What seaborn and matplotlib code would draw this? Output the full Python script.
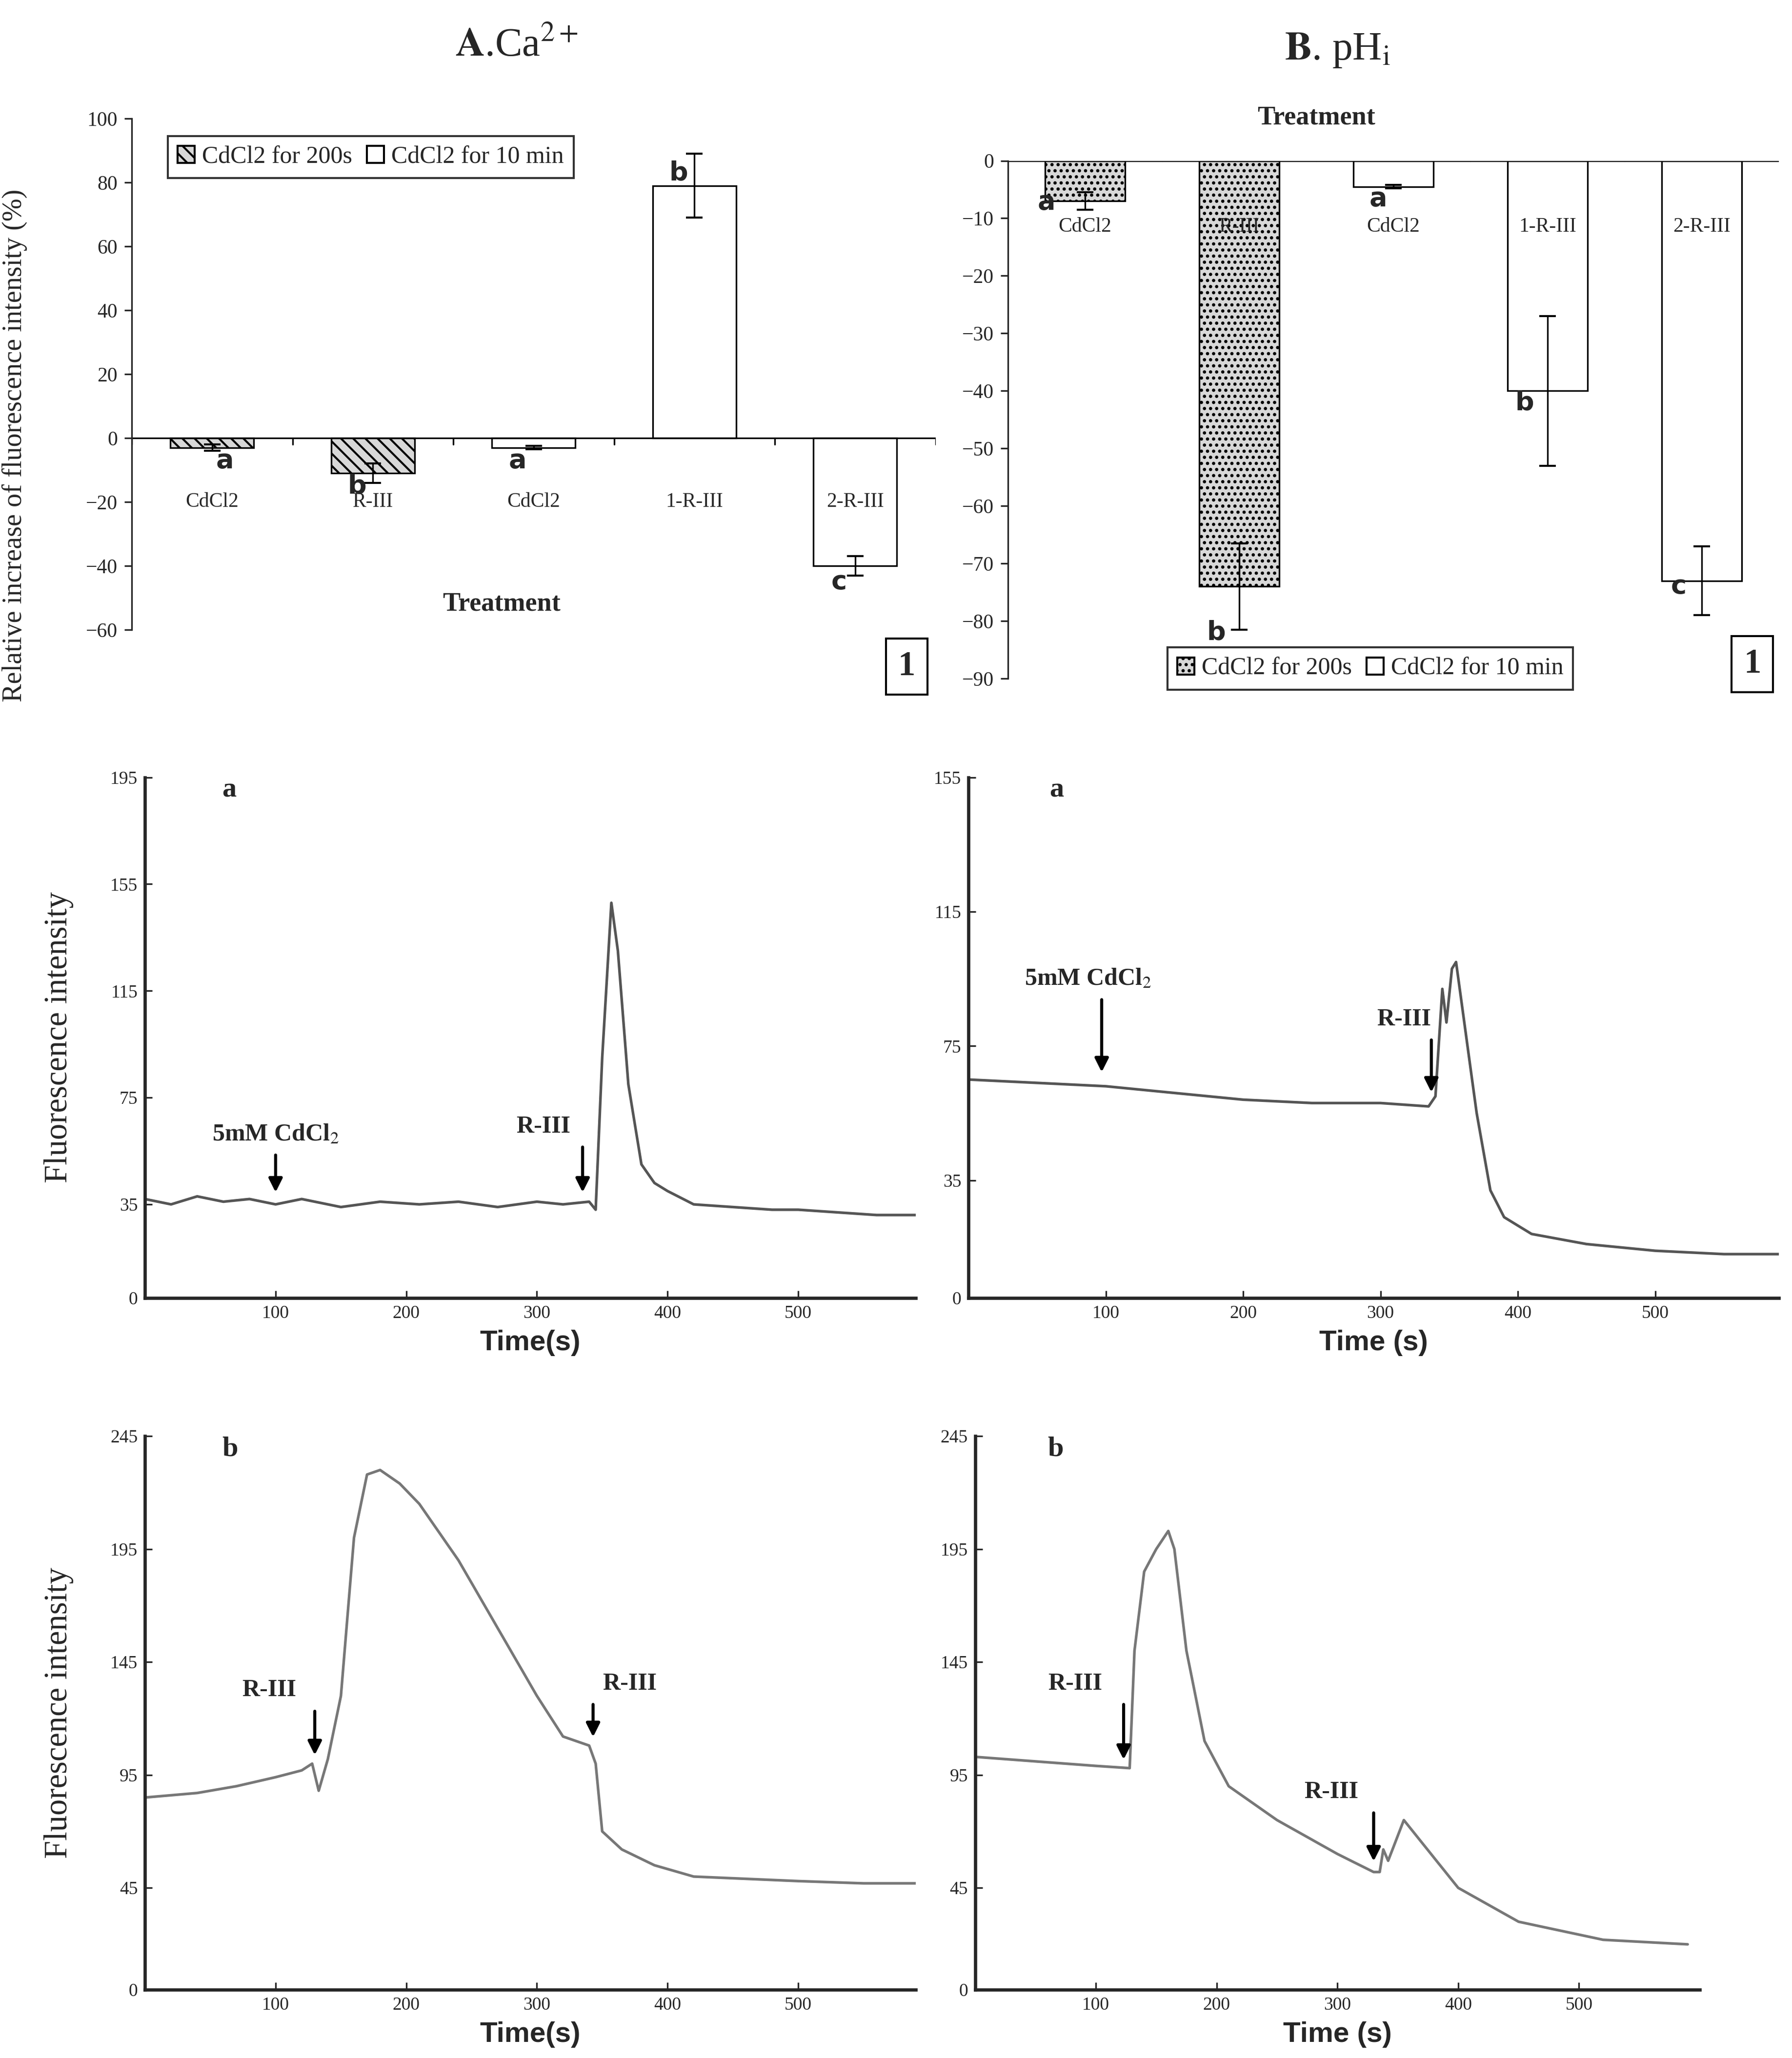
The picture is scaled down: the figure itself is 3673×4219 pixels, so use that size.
import matplotlib
matplotlib.use("Agg")
import matplotlib.pyplot as plt
import numpy as np
import pandas as pd
import seaborn as sns
from matplotlib.patches import Patch

sns.set_style("ticks")
plt.rcParams["font.family"] = ["Liberation Serif", "DejaVu Serif"]
plt.rcParams["mathtext.fontset"] = "stix"

# ---- bar data ----
treat_labels = ["CdCl2", "R-III", "CdCl2", "1-R-III", "2-R-III"]
bar_group = ["200s", "200s", "10min", "10min", "10min"]
ca_vals = [-3, -11, -3, 79, -40]
ca_err = [1, 3, 0.5, 10, 3]
ca_letters = ["a", "b", "a", "b", "c"]
ph_vals = [-7, -74, -4.5, -40, -73]
ph_err = [1.5, 7.5, 0.3, 13, 6]
ph_letters = ["a", "b", "a", "b", "c"]

# ---- trace data (time s, intensity) ----
ca_a_t = [0, 20, 40, 60, 80, 100, 120, 150, 180, 210, 240, 270, 300, 320, 340, 345, 350, 357, 362, 370, 380, 390, 400, 420, 450, 480, 500, 530, 560, 590]
ca_a_y = [37, 35, 38, 36, 37, 35, 37, 34, 36, 35, 36, 34, 36, 35, 36, 33, 90, 148, 130, 80, 50, 43, 40, 35, 34, 33, 33, 32, 31, 31]
ph_a_t = [0, 50, 100, 150, 200, 250, 300, 335, 340, 345, 348, 352, 355, 360, 370, 380, 390, 410, 450, 500, 550, 590]
ph_a_y = [65, 64, 63, 61, 59, 58, 58, 57, 60, 92, 82, 98, 100, 85, 55, 32, 24, 19, 16, 14, 13, 13]
ca_b_t = [0, 40, 70, 100, 120, 128, 133, 140, 150, 160, 170, 180, 195, 210, 240, 270, 300, 320, 340, 345, 350, 365, 390, 420, 460, 500, 550, 590]
ca_b_y = [85, 87, 90, 94, 97, 100, 88, 102, 130, 200, 228, 230, 224, 215, 190, 160, 130, 112, 108, 100, 70, 62, 55, 50, 49, 48, 47, 47]
ph_b_t = [0, 50, 100, 128, 132, 140, 150, 160, 165, 175, 190, 210, 250, 300, 330, 335, 338, 342, 355, 370, 400, 450, 520, 590]
ph_b_y = [103, 101, 99, 98, 150, 185, 195, 203, 195, 150, 110, 90, 75, 60, 52, 52, 62, 57, 75, 65, 45, 30, 22, 20]

W, H = 1360, 1562
fig = plt.figure(figsize=(3673 / 300, 4219 / 300), dpi=300)


def ax_at(x0, y0, x1, y1):
    return fig.add_axes([x0 / W, 1 - y1 / H, (x1 - x0) / W, (y1 - y0) / H])


def bar_panel(ax, vals, err, letters, hatch, lab_y, letter_pos, tick_len):
    for i in range(5):
        dark = bar_group[i] == "200s"
        ax.bar(i, vals[i], width=0.52, color="#d8d8d8" if dark else "white",
               hatch=hatch if dark else None, edgecolor="black", linewidth=0.8)
        ax.errorbar(i, vals[i], yerr=err[i], color="black", capsize=4, lw=0.8)
        lx, ly = letter_pos[i]
        ax.text(i + lx, ly, letters[i], fontsize=13, fontweight="bold",
                family="DejaVu Sans", ha="center", va="center")
        ax.text(i, lab_y, treat_labels[i], fontsize=10, ha="center", va="center")
    ax.set_xlim(-0.5, 4.5)
    ax.axhline(0, color="black", lw=0.8)
    for b in np.arange(-0.5, 5, 1):
        ax.plot([b, b], [0, tick_len], color="black", lw=0.8)
    ax.set_xticks([])
    for s in ["top", "right", "bottom"]:
        ax.spines[s].set_visible(False)
    ax.tick_params(axis="y", labelsize=10)


# A: Ca2+
axA = ax_at(100, 90, 710, 478)
axA.set_ylim(-60, 100)
axA.set_yticks(range(-60, 101, 20))
bar_panel(axA, ca_vals, ca_err, ca_letters, "\\\\\\\\", -20,
          [(0.08, -7), (-0.1, -15), (-0.1, -7), (-0.1, 83), (-0.1, -45)], -2)
axA.text(1.8, -54, "Treatment", fontsize=13, fontweight="bold", ha="center")
axA.set_ylabel("Relative increase of fluorescence intensity (%)", fontsize=13.5)
axA.yaxis.set_label_coords(-0.13, 0.36)
axA.legend([Patch(fc="#d8d8d8", ec="black", hatch="\\\\\\\\"), Patch(fc="white", ec="black")],
           ["CdCl2 for 200s", "CdCl2 for 10 min"], loc="upper left", bbox_to_anchor=(0.03, 0.99),
           ncol=2, fontsize=12, frameon=True, fancybox=False, edgecolor="black",
           handlelength=0.7, handletextpad=0.3, columnspacing=0.6)
fig.text(392 / W, 1 - 35 / H, r"$\mathbf{A}$.Ca$^{2+}$", fontsize=20, ha="center", va="center")

# B: pHi
axB = ax_at(765, 122, 1350, 515)
axB.set_ylim(-90, 0)
axB.set_yticks(range(-90, 1, 10))
bar_panel(axB, ph_vals, ph_err, ph_letters, "....", -11.5,
          [(-0.25, -7.2), (-0.15, -82), (-0.1, -6.6), (-0.15, -42), (-0.15, -74)], 1.2)
axB.text(1.5, 7.5, "Treatment", fontsize=13, fontweight="bold", ha="center", va="center", clip_on=False)
axB.legend([Patch(fc="#d8d8d8", ec="black", hatch="...."), Patch(fc="white", ec="black")],
           ["CdCl2 for 200s", "CdCl2 for 10 min"], loc="lower center", bbox_to_anchor=(0.47, -0.045),
           ncol=2, fontsize=12, frameon=True, fancybox=False, edgecolor="black",
           handlelength=0.7, handletextpad=0.3, columnspacing=0.6)
fig.text(1015 / W, 1 - 38 / H, r"$\mathbf{B}$. pH$_{\mathrm{i}}$", fontsize=20, ha="center", va="center")

for xx, yy in [(688, 506), (1330, 504)]:
    fig.text(xx / W, 1 - yy / H, "1", fontsize=17, fontweight="bold", ha="center", va="center",
             bbox=dict(boxstyle="square,pad=0.35", fc="white", ec="black", lw=1))


def trace_panel(box, t, y, ylim, yticks, letter, arrows, xlab, color="#555555", xmax=590):
    ax = ax_at(*box)
    sns.lineplot(x=t, y=y, ax=ax, color=color, lw=1.3)
    ax.set_xlim(0, xmax)
    ax.set_ylim(0, ylim)
    ax.set_yticks(yticks)
    ax.set_xticks([100, 200, 300, 400, 500])
    ax.tick_params(labelsize=9, direction="in")
    ax.set_xlabel(xlab, fontsize=14, fontweight="bold", family="Liberation Sans")
    ax.spines[["top", "right"]].set_visible(False)
    ax.spines[["left", "bottom"]].set_linewidth(1.6)
    ax.text(0.1, 1.0, letter, transform=ax.transAxes, fontsize=14, fontweight="bold", va="top")
    for lab, x, y0, y1, dx in arrows:
        ax.annotate("", xy=(x, y1), xytext=(x, y0),
                    arrowprops=dict(arrowstyle="-|>", color="black", lw=1.5, mutation_scale=14))
        ax.text(x + dx, y0 + ylim * 0.01, lab, fontsize=12, fontweight="bold", ha="center", va="bottom")
    return ax


ax = trace_panel((110, 590, 695, 985), ca_a_t, ca_a_y, 195, [0, 35, 75, 115, 155, 195], "a",
                 [("5mM CdCl$_2$", 100, 55, 38, 0), ("R-III", 335, 58, 38, -30)], "Time(s)")
ax.set_ylabel("Fluorescence intensity", fontsize=16, labelpad=18)
trace_panel((735, 590, 1350, 985), ph_a_t, ph_a_y, 155, [0, 35, 75, 115, 155], "a",
            [("5mM CdCl$_2$", 97, 90, 66, -10), ("R-III", 337, 78, 60, -20)], "Time (s)")
ax = trace_panel((110, 1090, 695, 1510), ca_b_t, ca_b_y, 245, [0, 45, 95, 145, 195, 245], "b",
                 [("R-III", 130, 125, 102, -35), ("R-III", 343, 128, 110, 28)], "Time(s)", color="#777777")
ax.set_ylabel("Fluorescence intensity", fontsize=16, labelpad=18)
trace_panel((740, 1090, 1290, 1510), ph_b_t, ph_b_y, 245, [0, 45, 95, 145, 195, 245], "b",
            [("R-III", 123, 128, 100, -40), ("R-III", 330, 80, 55, -35)], "Time (s)", color="#777777", xmax=600)

fig.savefig("out.png", dpi=300, facecolor="white")
